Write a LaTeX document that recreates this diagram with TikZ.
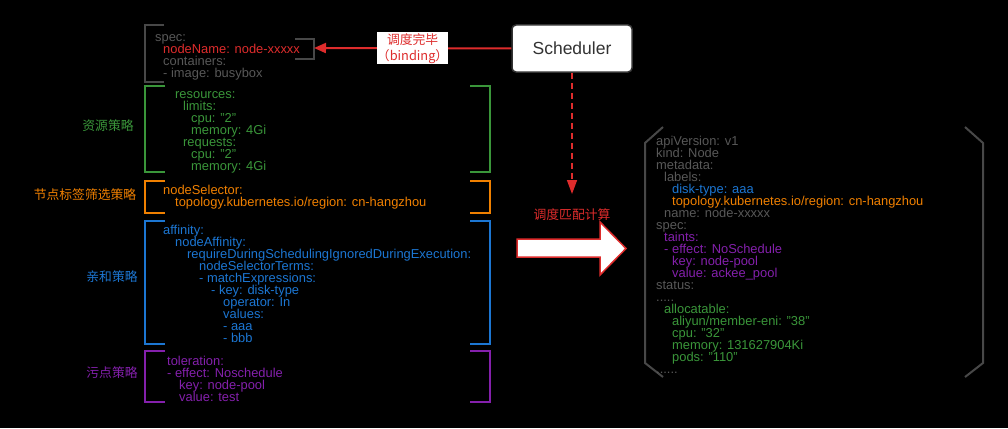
\documentclass[tikz,border=0pt]{standalone}
\usepackage{fontspec}
\setmainfont{Liberation Sans}
\newfontfamily\cjk{Noto Sans CJK SC}
\usepackage{xcolor}
\usetikzlibrary{arrows.meta}
\definecolor{ymlgray}{RGB}{88,88,88}
\definecolor{brkgray}{RGB}{72,72,72}
\definecolor{resgreen}{RGB}{58,150,58}
\definecolor{selorange}{RGB}{240,128,0}
\definecolor{affblue}{RGB}{28,118,210}
\definecolor{tolpurple}{RGB}{132,32,172}
\definecolor{schedred}{RGB}{222,44,44}
\newcommand\codefont{\fontsize{12.9}{12}\selectfont\lineskiplimit=-20pt\lineskip=0pt}
\newcommand\tstr{\rule{0pt}{9pt}}
\newcommand\yind[1]{\hspace*{#1pt}}
\tikzset{
  code/.style={anchor=north west, inner sep=0pt, align=left, font=\codefont},
  tag/.style={inner sep=0pt, font=\cjk\fontsize{12.8}{14}\selectfont},
  brk/.style={line width=2pt},
  schedbox/.style={rectangle, rounded corners=4pt, draw=black!80, line width=1.5pt,
                   fill=white, minimum width=120pt, minimum height=47pt,
                   text=black!80, font=\fontsize{17.5}{20}\selectfont},
  bindlbl/.style={rectangle, fill=white, inner sep=0pt, minimum width=71pt,
                  minimum height=32pt, align=center, text=schedred,
                  font=\cjk\fontsize{12.8}{16}\selectfont},
  redarr/.style={schedred, line width=2pt, -{Triangle[length=12pt, width=10pt]}},
  dasharr/.style={schedred, line width=1.5pt, dash pattern=on 6pt off 4pt,
                  -{Triangle[length=14pt, width=10pt]}},
}
\begin{document}
\begin{tikzpicture}[x=1pt, y=-1pt]
\fill[black] (0,0) rectangle (1008,428);
\useasboundingbox (0,0) rectangle (1008,428);

% pod spec
\node[code, text=ymlgray] (specText) at (155,32) {\tstr spec:\\
  \yind{8}\textcolor{schedred}{nodeName: node-xxxxx}\\
  \yind{8}containers:\\
  \yind{8}- image: busybox};
\draw[brk, brkgray] (164,25) -| (145,82) -- (164,82);
\draw[brk, brkgray] (295,39) -| (314,59) -- (295,59);
\coordinate (nnEnd) at (314,48);

% resources
\node[tag, text=resgreen] (resTag) at (108,126) {资源策略};
\node[code, text=resgreen] (resText) at (175,89) {\tstr resources:\\
  \yind{8}limits:\\
  \yind{16}cpu: "2"\\
  \yind{16}memory: 4Gi\\
  \yind{8}requests:\\
  \yind{16}cpu: "2"\\
  \yind{16}memory: 4Gi};
\draw[brk, resgreen] (165,86) -| (145,172) -- (165,172);
\draw[brk, resgreen] (470,86) -| (490,172) -- (470,172);

% node selector
\node[tag, text=selorange] (selTag) at (85,195) {节点标签筛选策略};
\node[code, text=selorange] (selText) at (163,185) {\tstr nodeSelector:\\
  \yind{12}topology.kubernetes.io/region: cn-hangzhou};
\draw[brk, selorange] (165,181) -| (145,213) -- (165,213);
\draw[brk, selorange] (470,181) -| (490,213) -- (470,213);

% affinity
\node[tag, text=affblue] (affTag) at (112,277) {亲和策略};
\node[code, text=affblue] (affText) at (163,225) {\tstr affinity:\\
  \yind{12}nodeAffinity:\\
  \yind{24}requireDuringSchedulingIgnoredDuringExecution:\\
  \yind{36}nodeSelectorTerms:\\
  \yind{36}- matchExpressions:\\
  \yind{48}- key: disk-type\\
  \yind{60}operator: In\\
  \yind{60}values:\\
  \yind{60}- aaa\\
  \yind{60}- bbb};
\draw[brk, affblue] (165,221) -| (145,344) -- (165,344);
\draw[brk, affblue] (470,221) -| (490,344) -- (470,344);

% toleration
\node[tag, text=tolpurple] (tolTag) at (112,373) {污点策略};
\node[code, text=tolpurple] (tolText) at (167,356) {\tstr toleration:\\
  - effect: Noschedule\\
  \yind{12}key: node-pool\\
  \yind{12}value: test};
\draw[brk, tolpurple] (165,351) -| (145,402) -- (165,402);
\draw[brk, tolpurple] (470,351) -| (490,402) -- (470,402);

% scheduler
\node[schedbox] (sched) at (572,48.5) {Scheduler};
\draw[redarr] (sched.west) -- node[bindlbl] (bindLbl) {调度完毕\\（binding）} (nnEnd);
\coordinate (matchTip) at (572,194);
\draw[dasharr] (sched.south) -- (matchTip);
\node[tag, text=schedred] (calcLbl) at (572,215) {调度匹配计算};
\draw[schedred, line width=1.5pt, fill=white, line join=miter]
  (517,239) -- (600,239) -- (600,222) -- (626,248.5) -- (600,275)
  -- (600,257) -- (517,257) -- cycle;

% node object
\draw[brk, brkgray] (663,127) -- (645,143) -- (645,363) -- (663,377);
\draw[brk, brkgray] (965,127) -- (983,143) -- (983,363) -- (965,377);
\node[code, text=ymlgray] (nodeText) at (656,136) {\tstr apiVersion: v1\\
  kind: Node\\
  metadata:\\
  \yind{8}labels:\\
  \yind{16}\textcolor{affblue}{disk-type: aaa}\\
  \yind{16}\textcolor{selorange}{topology.kubernetes.io/region: cn-hangzhou}\\
  \yind{8}name: node-xxxxx\\
  spec:\\
  \yind{8}\textcolor{tolpurple}{taints:}\\
  \yind{8}\textcolor{tolpurple}{- effect: NoSchedule}\\
  \yind{16}\textcolor{tolpurple}{key: node-pool}\\
  \yind{16}\textcolor{tolpurple}{value: ackee\_pool}\\
  status:\\
  .....\\
  \yind{8}\textcolor{resgreen}{allocatable:}\\
  \yind{16}\textcolor{resgreen}{aliyun/member-eni: "38"}\\
  \yind{16}\textcolor{resgreen}{cpu: "32"}\\
  \yind{16}\textcolor{resgreen}{memory: 131627904Ki}\\
  \yind{16}\textcolor{resgreen}{pods: "110"}\\
  ......};
\end{tikzpicture}
\end{document}
